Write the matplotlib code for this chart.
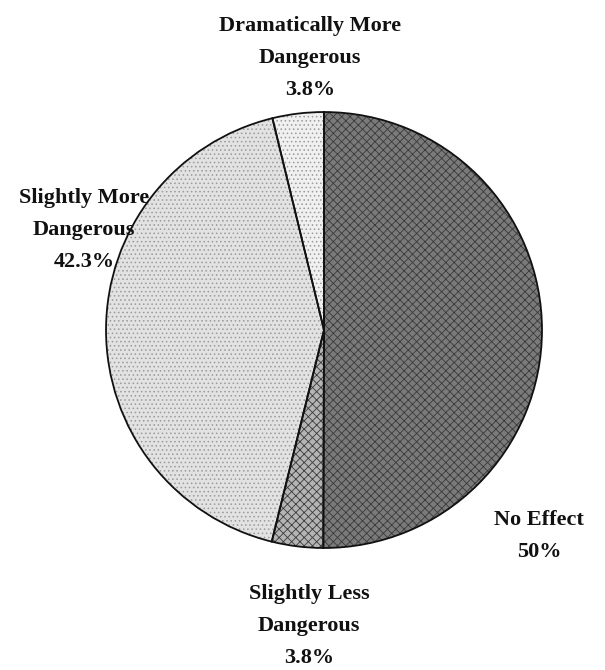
import matplotlib
matplotlib.use("Agg")
import matplotlib.pyplot as plt

categories = ["Dramatically More\nDangerous", "Slightly More\nDangerous",
              "Slightly Less\nDangerous", "No Effect"]
values = [3.8, 42.3, 3.8, 50.0]
value_labels = ["3.8%", "42.3%", "3.8%", "50%"]

colors = ["#f0f0f0", "#e2e2e2", "#b4b4b4", "#7a7a7a"]
hatches = ["....", "....", "xxxx", "xxxx"]
label_pos = [(-0.064, 1.248), (-1.10, 0.459), (-0.069, -1.36), (0.986, -0.945)]

plt.rcParams['font.family'] = ['Liberation Serif', 'DejaVu Serif']
plt.rcParams['hatch.linewidth'] = 0.6

fig = plt.figure(figsize=(6.05, 6.7), dpi=100)
ax = fig.add_axes([0.1752, 0.1821, 0.7207, 0.6507])
# fill
ax.pie(values, colors=colors, startangle=90, counterclock=True, radius=1.0,
       wedgeprops=dict(linewidth=0))
# texture
tex, _ = ax.pie(values, startangle=90, counterclock=True, radius=1.0,
                wedgeprops=dict(facecolor='none', linewidth=0))
for w, h in zip(tex, hatches):
    w.set_hatch(h)
    w.set_edgecolor('#9a9a9a' if h == "...." else '#3a3a3a')
# outlines
ax.pie(values, startangle=90, counterclock=True, radius=1.0,
       wedgeprops=dict(facecolor='none', edgecolor="#111111", linewidth=1.3))
ax.set_xlim(-1, 1)
ax.set_ylim(-1, 1)
ax.set_aspect('equal')
ax.axis('off')

for cat, vl, (x, y) in zip(categories, value_labels, label_pos):
    ax.text(x, y, f"{cat}\n{vl}", ha='center', va='center', fontsize=16,
            fontweight='bold', linespacing=1.8, clip_on=False, color='#111111')

fig.savefig("out.png", dpi=100)
